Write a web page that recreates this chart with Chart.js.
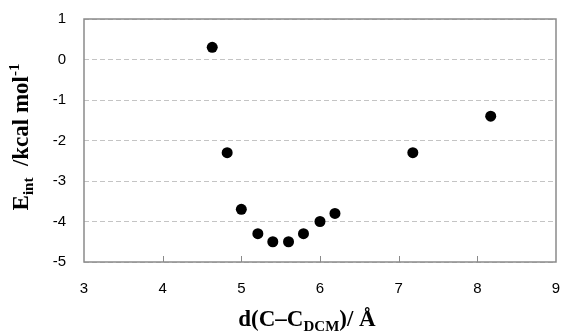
<!DOCTYPE html>
<html>
<head>
<meta charset="utf-8">
<script src="https://cdn.jsdelivr.net/npm/chart.js@4"></script>
<style>
  html, body { margin: 0; padding: 0; background: #fff; }
  #wrap { width: 562px; height: 332px; }
</style>
</head>
<body>
<div id="wrap"><canvas id="myGraph" width="562" height="332"></canvas></div>
<script>
// distance d(C-C_DCM) in Angstrom and interaction energy in kcal/mol
const distances = [4.63, 4.82, 5.0, 5.21, 5.4, 5.6, 5.79, 6.0, 6.19, 7.18, 8.17];
const energies  = [0.3, -2.3, -3.7, -4.3, -4.5, -4.5, -4.3, -4.0, -3.8, -2.3, -1.4];
const xTicks = [3, 4, 5, 6, 7, 8, 9];
const yTicks = [1, 0, -1, -2, -3, -4, -5];

// texto con sub/superindices centrado en (0,0)
function drawRich(ctx, parts) {
    let total = 0;
    parts.forEach(p => {
        ctx.font = 'bold ' + p.size + 'px "Liberation Serif", "Times New Roman", serif';
        p.w = ctx.measureText(p.text).width;
        total += p.w;
    });
    let x = -total / 2;
    parts.forEach(p => {
        ctx.font = 'bold ' + p.size + 'px "Liberation Serif", "Times New Roman", serif';
        ctx.fillText(p.text, x, p.dy || 0);
        x += p.w;
    });
}

const framePlugin = {
    id: 'frame',
    afterDraw(chart) {
        const ctx = chart.ctx;
        const a = chart.chartArea;
        const xs = chart.scales.x;
        ctx.save();
        // marco del area de trazado
        ctx.strokeStyle = '#8a8a8a';
        ctx.lineWidth = 1.5;
        ctx.strokeRect(a.left, a.top, a.right - a.left, a.bottom - a.top);
        // marcas hacia dentro en el eje x
        ctx.lineWidth = 1;
        xTicks.slice(1, -1).forEach(v => {
            const px = Math.round(xs.getPixelForValue(v)) + 0.5;
            ctx.beginPath();
            ctx.moveTo(px, a.bottom);
            ctx.lineTo(px, a.bottom - 6);
            ctx.stroke();
        });
        // titulos de los ejes
        ctx.fillStyle = '#000';
        ctx.textBaseline = 'alphabetic';
        ctx.save();
        ctx.translate(307, 326);
        drawRich(ctx, [
            {text: 'd(C\u2013C', size: 23},
            {text: 'DCM', size: 15, dy: 5},
            {text: ')/ \u00c5', size: 23}
        ]);
        ctx.restore();
        ctx.save();
        ctx.translate(28, 137);
        ctx.rotate(-Math.PI / 2);
        drawRich(ctx, [
            {text: 'E', size: 23},
            {text: 'int', size: 15, dy: 5},
            {text: '  /kcal mol', size: 23},
            {text: '-1', size: 15, dy: -9}
        ]);
        ctx.restore();
        ctx.restore();
    }
};

const ctx = document.getElementById('myGraph').getContext('2d');
const points = distances.map((d, i) => ({x: d, y: energies[i]}));

new Chart(ctx, {
    type: 'scatter',
    data: {
        datasets: [{
            label: 'Eint',
            data: points,
            backgroundColor: '#000',
            borderWidth: 0,
            pointRadius: 5.5,
            pointHoverRadius: 5.5
        }]
    },
    options: {
        responsive: false,
        animation: false,
        events: [],
        layout: { padding: { left: 0, right: 6, top: 19, bottom: 0 } },
        plugins: {
            legend: { display: false },
            tooltip: { enabled: false }
        },
        scales: {
            x: {
                type: 'linear',
                min: 3, max: 9,
                afterBuildTicks: s => { s.ticks = xTicks.map(v => ({value: v})); },
                afterFit: s => { s.height = 70; s.paddingLeft = 0; s.paddingRight = 0; },
                grid: { display: false, drawTicks: false },
                border: { display: false },
                ticks: {
                    padding: 18,
                    color: '#000',
                    font: { family: '"Liberation Sans", Arial, sans-serif', size: 15 },
                    maxRotation: 0
                }
            },
            y: {
                type: 'linear',
                min: -5, max: 1,
                afterBuildTicks: s => { s.ticks = yTicks.map(v => ({value: v})); },
                afterFit: s => { s.width = 84; s.paddingTop = 0; s.paddingBottom = 0; },
                grid: {
                    color: '#c4c4c4',
                    lineWidth: 1,
                    drawTicks: false
                },
                border: { display: false, dash: [5, 3] },
                ticks: {
                    padding: 18,
                    color: '#000',
                    font: { family: '"Liberation Sans", Arial, sans-serif', size: 15 }
                }
            }
        }
    },
    plugins: [framePlugin]
});
</script>
</body>
</html>
